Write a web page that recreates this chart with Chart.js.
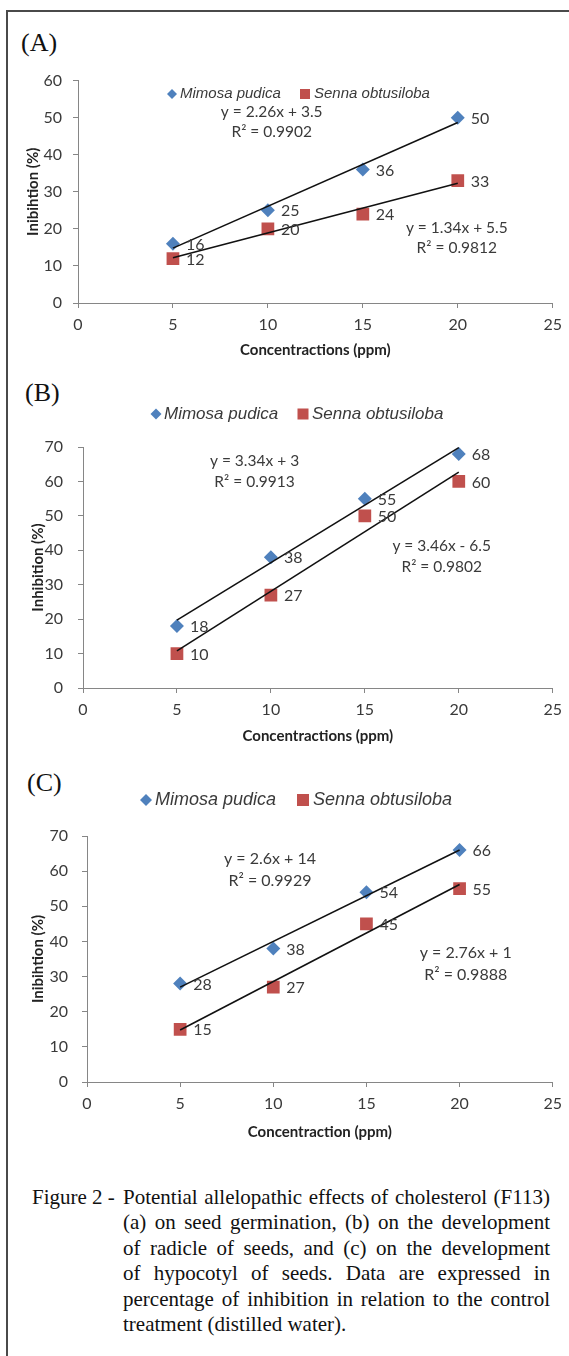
<!DOCTYPE html>
<html>
<head>
<meta charset="utf-8">
<script src="https://cdn.jsdelivr.net/npm/chart.js@4.4.1/dist/chart.umd.min.js"></script>
<style>
body{margin:0;background:#fff;}
#page{position:relative;width:569px;height:1356px;overflow:hidden;background:#fff;}
.frameTop{position:absolute;left:6px;top:10px;width:563px;height:2px;background:#4a4a4a;}
.frameLeft{position:absolute;left:6px;top:10px;width:2px;height:1346px;background:#4a4a4a;}
.panel{position:absolute;font-family:"Liberation Serif","Times New Roman",serif;font-size:26px;line-height:26px;color:#111;}
canvas{position:absolute;left:0;}
.cap{position:absolute;left:123px;width:427px;font-family:"Liberation Serif","Times New Roman",serif;font-size:21px;line-height:25.4px;color:#111;text-align:justify;text-align-last:justify;white-space:nowrap;}
.cap.last{text-align-last:left;}
#figLabel{position:absolute;left:32px;font-family:"Liberation Serif",serif;font-size:21px;line-height:25.4px;color:#111;}
</style>
</head>
<body>
<div id="page">
  <div class="frameTop"></div>
  <div class="frameLeft"></div>
  <div class="panel" style="left:21px;top:30px;">(A)</div>
  <div class="panel" style="left:25px;top:380px;">(B)</div>
  <div class="panel" style="left:27px;top:770px;">(C)</div>
  <canvas id="chartA" width="569" height="305" style="top:60px"></canvas>
  <canvas id="chartB" width="569" height="380" style="top:370px"></canvas>
  <canvas id="chartC" width="569" height="385" style="top:760px"></canvas>
  <div id="figLabel" style="top:1185px">Figure 2 -</div>
  <div class="cap" style="top:1185px">Potential allelopathic effects of cholesterol (F113)</div>
  <div class="cap" style="top:1210.4px">(a) on seed germination, (b) on the development</div>
  <div class="cap" style="top:1235.8px">of radicle of seeds, and (c) on the development</div>
  <div class="cap" style="top:1261.2px">of hypocotyl of seeds. Data are expressed in</div>
  <div class="cap" style="top:1286.6px">percentage of inhibition in relation to the control</div>
  <div class="cap last" style="top:1312px">treatment (distilled water).</div>
</div>
<script>
// concentrations (ppm) on the x axis
const concentrations = [5, 10, 15, 20];
const seriesNames = ['Mimosa pudica', 'Senna obtusiloba'];

// (A) seed germination
const mimosaA = [16, 25, 36, 50];
const sennaA = [12, 20, 24, 33];
// (B) radicle
const mimosaB = [18, 38, 55, 68];
const sennaB = [10, 27, 50, 60];
// (C) hypocotyl
const mimosaC = [28, 38, 54, 66];
const sennaC = [15, 27, 45, 55];

const xTickValues = [0, 5, 10, 15, 20, 25];
const yMaxValues = [60, 70, 70];

const eqMimosa = [['y = 2.26x + 3.5', 'R\u00b2 = 0.9902'], ['y = 3.34x + 3', 'R\u00b2 = 0.9913'], ['y = 2.6x + 14', 'R\u00b2 = 0.9929']];
const eqSenna = [['y = 1.34x + 5.5', 'R\u00b2 = 0.9812'], ['y = 3.46x - 6.5', 'R\u00b2 = 0.9802'], ['y = 2.76x + 1', 'R\u00b2 = 0.9888']];
const xTitles = ['Concentractions (ppm)', 'Concentractions (ppm)', 'Concentraction (ppm)'];
const yTitles = ['Inibihtion (%)', 'Inhibition (%)', 'Inibihtion (%)'];

const blue = '#4F81BD';
const red = '#C0504D';
const textGray = '#3a3a3a';
const axisGray = '#868686';

// least squares line through the measured points
function trend(xs, ys) {
    var n = xs.length, mx = 0, my = 0;
    for (let i = 0; i < n; i++) { mx += xs[i] / n; my += ys[i] / n; }
    var sxy = 0, sxx = 0;
    for (let i = 0; i < n; i++) { sxy += (xs[i] - mx) * (ys[i] - my); sxx += (xs[i] - mx) * (xs[i] - mx); }
    var b = sxy / sxx, a = my - b * mx;
    return [{x: xs[0], y: a + b * xs[0]}, {x: xs[n - 1], y: a + b * xs[n - 1]}];
}

function points(ys) {
    return concentrations.map((x, i) => ({x: x, y: ys[i]}));
}

function drawDiamond(ctx, x, y, r, color) {
    ctx.fillStyle = color;
    ctx.beginPath();
    ctx.moveTo(x - r, y); ctx.lineTo(x, y - r); ctx.lineTo(x + r, y); ctx.lineTo(x, y + r);
    ctx.closePath(); ctx.fill();
}
function drawSquare(ctx, x, y, h, color) {
    ctx.fillStyle = color;
    ctx.fillRect(x - h, y - h, 2 * h, 2 * h);
}

// labels next to the points, trendline equations and the legend
const annotate = {
    id: 'annotate',
    afterDatasetsDraw(chart, args, o) {
        const ctx = chart.ctx, sx = chart.scales.x, sy = chart.scales.y;
        ctx.save();
        ctx.font = '16px Lato';
        ctx.fillStyle = textGray;
        ctx.textAlign = 'left';
        ctx.textBaseline = 'middle';
        [0, 1].forEach(function(di) {
            chart.getDatasetMeta(di).data.forEach(function(pt, i) {
                ctx.fillText(String(chart.data.datasets[di].data[i].y), pt.x + 13, pt.y + 1);
            });
        });
        ctx.font = o.eqFont;
        ctx.textAlign = 'center';
        o.eqs.forEach(function(eq) {
            var px = sx.getPixelForValue(eq.at[0]), py = sy.getPixelForValue(eq.at[1]);
            ctx.fillText(eq.lines[0], px, py);
            ctx.fillText(eq.lines[1], px, py + o.eqGap);
        });
        // legend
        var lg = o.legend;
        ctx.font = lg.font;
        ctx.textAlign = 'left';
        drawDiamond(ctx, lg.x1, lg.y, lg.r, blue);
        ctx.fillStyle = textGray;
        ctx.fillText(seriesNames[0], lg.x1 + lg.gap, lg.y);
        drawSquare(ctx, lg.x2, lg.y, lg.r, red);
        ctx.fillStyle = textGray;
        ctx.fillText(seriesNames[1], lg.x2 + lg.gap + 1, lg.y);
        ctx.restore();
    }
};

function makeChart(id, k, mimosa, senna, geo) {
    return new Chart(id, {
        type: 'scatter',
        data: {
            datasets: [
                {label: seriesNames[0], data: points(mimosa), pointStyle: 'rectRot', pointRadius: 7,
                 backgroundColor: blue, pointBorderWidth: 0, order: 2},
                {label: seriesNames[1], data: points(senna), pointStyle: 'rect', pointRadius: 9,
                 backgroundColor: red, pointBorderWidth: 0, order: 3},
                {data: trend(concentrations, mimosa), showLine: true, borderColor: '#111', borderWidth: 1.6,
                 pointRadius: 0, order: 0},
                {data: trend(concentrations, senna), showLine: true, borderColor: '#111', borderWidth: 1.6,
                 pointRadius: 0, order: 1}
            ]
        },
        options: {
            responsive: false,
            animation: false,
            events: [],
            layout: {padding: {left: 0, top: geo.top, right: 16, bottom: 0}},
            plugins: {
                legend: {display: false},
                tooltip: {enabled: false},
                annotate: {
                    eqs: [{lines: eqMimosa[k], at: geo.eq1}, {lines: eqSenna[k], at: geo.eq2}],
                    eqFont: geo.eqFont,
                    eqGap: geo.eqGap,
                    legend: geo.legend
                }
            },
            scales: {
                x: {
                    type: 'linear', min: 0, max: 25,
                    afterBuildTicks: function(s) { s.ticks = xTickValues.map(v => ({value: v})); },
                    ticks: {padding: geo.xPad, color: textGray, font: {family: 'Lato', size: 16}},
                    grid: {drawOnChartArea: false, drawTicks: true, tickLength: 5, color: axisGray},
                    border: {color: axisGray},
                    title: {display: true, text: xTitles[k], color: '#222',
                            font: {family: 'Lato', size: 15, weight: 'bold'}, padding: {top: 0, bottom: geo.xTitlePad}},
                    afterFit: function(s) { s.height = geo.xHeight; }
                },
                y: {
                    min: 0, max: yMaxValues[k],
                    ticks: {stepSize: 10, padding: geo.yPad, color: textGray, font: {family: 'Lato', size: 16}},
                    grid: {drawOnChartArea: false, drawTicks: true, tickLength: 5, color: axisGray},
                    border: {color: axisGray},
                    title: {display: true, text: yTitles[k], color: '#222',
                            font: {family: 'Lato', size: 15, weight: 'bold'}, padding: {top: geo.yTitlePad, bottom: 0}},
                    afterFit: function(s) { s.width = geo.yWidth; }
                }
            }
        },
        plugins: [annotate]
    });
}

makeChart('chartA', 0, mimosaA, sennaA, {
    top: 20, yWidth: 78, xHeight: 62, xPad: 7, yPad: 11, xTitlePad: 6, yTitlePad: 24,
    eq1: [10.2, 51.6], eq2: [19.95, 20.2], eqFont: '15.5px Lato', eqGap: 20,
    legend: {x1: 172, x2: 305, y: 34, r: 5, gap: 8, font: 'italic 15px "Liberation Sans"'}
});
makeChart('chartB', 1, mimosaB, sennaB, {
    top: 77, yWidth: 83, xHeight: 62, xPad: 7, yPad: 15, xTitlePad: 5, yTitlePad: 29,
    eq1: [9.13, 65.9], eq2: [19.09, 41.2], eqFont: '15.5px Lato', eqGap: 21,
    legend: {x1: 156, x2: 303, y: 44, r: 5.5, gap: 8, font: 'italic 17px "Liberation Sans"'}
});
makeChart('chartC', 2, mimosaC, sennaC, {
    top: 76, yWidth: 87, xHeight: 63, xPad: 7, yPad: 14, xTitlePad: 4, yTitlePad: 29,
    eq1: [9.82, 63.5], eq2: [20.33, 36.7], eqFont: '16px Lato', eqGap: 22,
    legend: {x1: 146, x2: 303, y: 40, r: 6, gap: 9, font: 'italic 18px "Liberation Sans"'}
});
</script>
</body>
</html>
